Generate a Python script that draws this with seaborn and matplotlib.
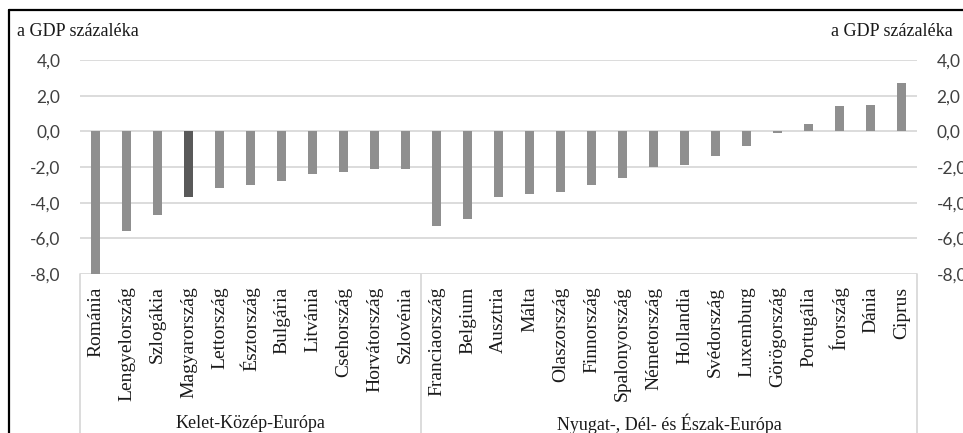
import numpy as np
import pandas as pd
import matplotlib
matplotlib.use("Agg")
import matplotlib.pyplot as plt
import seaborn as sns
from matplotlib.lines import Line2D
from matplotlib.transforms import blended_transform_factory

# Budget balance by country, in percent of GDP
countries_east = ["Románia", "Lengyelország", "Szlogákia", "Magyarország", "Lettország",
                  "Észtország", "Bulgária", "Litvánia", "Csehország", "Horvátország", "Szlovénia"]
balance_east = [-8.0, -5.6, -4.7, -3.7, -3.2, -3.0, -2.8, -2.4, -2.3, -2.1, -2.1]

countries_west = ["Franciaország", "Belgium", "Ausztria", "Málta", "Olaszország", "Finnország",
                  "Spalonyország", "Németország", "Hollandia", "Svédország", "Luxemburg",
                  "Görögország", "Portugália", "Írország", "Dánia", "Ciprus"]
balance_west = [-5.3, -4.9, -3.7, -3.5, -3.4, -3.0, -2.6, -2.0, -1.9, -1.4, -0.8,
                -0.1, 0.4, 1.4, 1.5, 2.7]

group_names = ["Kelet-Közép-Európa", "Nyugat-, Dél- és Észak-Európa"]
highlight = "Magyarország"
y_ticks = [4.0, 2.0, 0.0, -2.0, -4.0, -6.0, -8.0]
y_unit = "a GDP százaléka"

sns.set_theme(style="white")
plt.rcParams["font.family"] = ["Liberation Serif", "DejaVu Serif"]

df = pd.DataFrame({
    "country": countries_east + countries_west,
    "value": balance_east + balance_west,
    "group": [group_names[0]] * len(countries_east) + [group_names[1]] * len(countries_west),
})
df["kind"] = np.where(df["country"] == highlight, "hu", "other")

W, H = 963, 433
fig = plt.figure(figsize=(W / 100, H / 100), dpi=100)
fig.patch.set_facecolor("white")

left, right, top, bottom = 80, 917, 60, 274
ax = fig.add_axes([left / W, 1 - bottom / H, (right - left) / W, (bottom - top) / H])

sns.barplot(data=df, x="country", y="value", hue="kind",
            palette={"hu": "#595959", "other": "#8f8f8f"},
            width=0.3, dodge=False, legend=False, ax=ax, linewidth=0)

n = len(df)
ax.set_xlim(-0.5, n - 0.5)
ax.set_ylim(-8, 4)
ax.set_xlabel("")
ax.set_ylabel("")
for s in ax.spines.values():
    s.set_visible(False)
ax.set_axisbelow(True)
ax.yaxis.grid(True, color="#d9d9d9", linewidth=1.3)
ax.xaxis.grid(False)

tick_font = dict(family=["Lato", "DejaVu Sans"], size=12.5, color="#404040")
ax.set_yticks(y_ticks)
ax.set_yticklabels([f"{t:.1f}".replace(".", ",") for t in y_ticks], **tick_font)
ax.tick_params(axis="y", length=0, pad=14)

ax.set_xticks(range(n))
ax.set_xticklabels(df["country"], rotation=90, fontsize=14, color="#1a1a1a")
ax.tick_params(axis="x", length=0, pad=9)

ax2 = ax.twinx()
ax2.set_ylim(-8, 4)
ax2.set_yticks(y_ticks)
ax2.set_yticklabels([f"{t:.1f}".replace(".", ",") for t in y_ticks], **tick_font)
ax2.tick_params(axis="y", length=0, pad=14)
for s in ax2.spines.values():
    s.set_visible(False)

# category box below the plot
trans = blended_transform_factory(ax.transData, ax.transAxes)
box_color = "#d9d9d9"
n_east = len(countries_east)
for xv in (-0.5, n_east - 0.5, n - 0.5):
    ax.plot([xv, xv], [0, -0.9], transform=trans, color=box_color, lw=1.3, clip_on=False)

ax.text((n_east - 1) / 2, -0.70, group_names[0], transform=trans, ha="center", va="center",
        fontsize=13, color="#1a1a1a")
ax.text(n_east + (len(countries_west) - 1) / 2, -0.70, group_names[1], transform=trans,
        ha="center", va="center", fontsize=13, color="#1a1a1a")

fig.text(17 / W, 1 - 32 / H, y_unit, ha="left", va="center", fontsize=13, color="#1a1a1a")
fig.text(953 / W, 1 - 32 / H, y_unit, ha="right", va="center", fontsize=13, color="#1a1a1a")

# outer frame (left and top edges)
fig.add_artist(Line2D([9 / W, 9 / W], [-0.1, 1 - 10 / H], transform=fig.transFigure,
                      color="black", lw=1.6))
fig.add_artist(Line2D([9 / W, 1.1], [1 - 10 / H, 1 - 10 / H], transform=fig.transFigure,
                      color="black", lw=1.6))

fig.savefig("out.png", dpi=100)
